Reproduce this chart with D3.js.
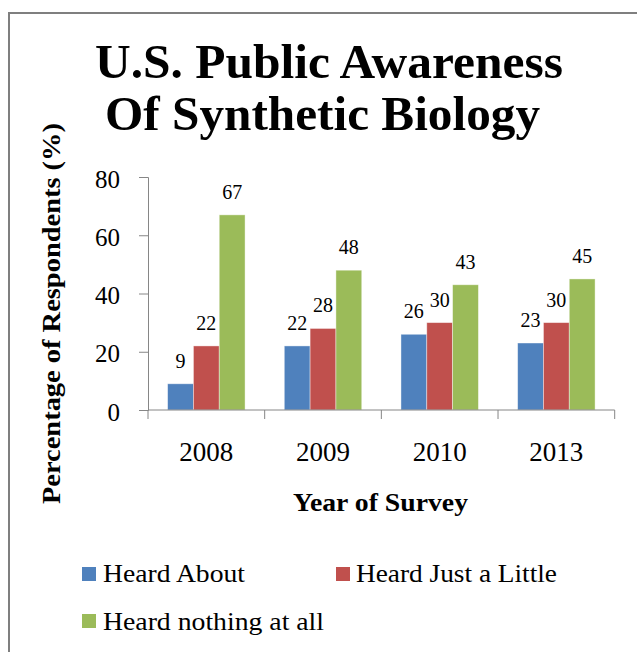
<!DOCTYPE html>
<html>
<head>
<meta charset="utf-8">
<script src="https://cdn.jsdelivr.net/npm/d3@7"></script>
<style>
  html, body { margin: 0; padding: 0; background: #fff; }
  svg { display: block; }
  text { font-family: "Liberation Serif", "Times New Roman", serif; fill: #000; }
</style>
</head>
<body>
<svg id="chart" width="637" height="652"></svg>
<script>
const years = ["2008", "2009", "2010", "2013"];
const seriesNames = ["Heard About", "Heard Just a Little", "Heard nothing at all"];
const heardAbout = [9, 22, 26, 23];
const heardLittle = [22, 28, 30, 30];
const heardNothing = [67, 48, 43, 45];
const yTicks = [0, 20, 40, 60, 80];
const colors = ["#4F81BD", "#C0504D", "#9BBB59"];
const titleLines = ["U.S. Public Awareness", "Of Synthetic Biology"];

const seriesValues = [heardAbout, heardLittle, heardNothing];
const svg = d3.select("#chart");

// outer frame
svg.append("rect").attr("x", 9).attr("y", 13).attr("width", 700).attr("height", 700)
  .attr("fill", "none").attr("stroke", "#7f7f7f").attr("stroke-width", 2);

// title
const titleGeom = [{x: 95, y: 78, w: 468}, {x: 105, y: 130, w: 435}];
titleLines.forEach((t, i) => {
  svg.append("text").attr("x", titleGeom[i].x).attr("y", titleGeom[i].y)
    .attr("font-size", 49).attr("font-weight", "bold")
    .attr("textLength", titleGeom[i].w).attr("lengthAdjust", "spacingAndGlyphs")
    .text(t);
});

const x0 = d3.scaleBand().domain(years).range([148, 614.7]).paddingInner(0).paddingOuter(0);
const x1 = d3.scaleBand().domain(seriesNames).range([0, x0.bandwidth()]).paddingInner(0).paddingOuter(0.76);
const y = d3.scaleLinear().domain([0, 80]).range([410, 177]);

// y axis
const yAxis = svg.append("g").attr("transform", "translate(148,0)")
  .call(d3.axisLeft(y).tickValues(yTicks).tickSize(9).tickPadding(19).tickSizeOuter(9));
yAxis.select(".domain").attr("stroke", "#868686");
yAxis.selectAll(".tick line").attr("stroke", "#868686");
yAxis.selectAll(".tick text").attr("font-size", 25).attr("font-family", "Liberation Serif")
  .attr("fill", "#000").attr("dy", "0.40em");

// bars
const groups = svg.append("g").selectAll("g").data(years).join("g")
  .attr("transform", d => `translate(${x0(d)},0)`);
groups.selectAll("rect")
  .data((d, i) => seriesNames.map((s, j) => ({s, j, v: seriesValues[j][i]})))
  .join("rect")
  .attr("x", d => x1(d.s))
  .attr("y", d => y(d.v))
  .attr("width", x1.bandwidth())
  .attr("height", d => y(0) - y(d.v))
  .attr("fill", d => colors[d.j])
  .attr("stroke", "rgba(255,255,255,0.5)").attr("stroke-width", 0.8);
groups.selectAll("text.val")
  .data((d, i) => seriesNames.map((s, j) => ({s, j, v: seriesValues[j][i]})))
  .join("text").attr("class", "val")
  .attr("x", d => x1(d.s) + x1.bandwidth() / 2)
  .attr("y", d => y(d.v) - 16)
  .attr("text-anchor", "middle").attr("font-size", 20)
  .text(d => d.v);

// x axis line and boundary ticks
svg.append("line").attr("x1", x0.range()[0]).attr("x2", x0.range()[1])
  .attr("y1", y(0)).attr("y2", y(0)).attr("stroke", "#868686");
const bounds = years.map(d => x0(d)).concat([x0(years[years.length - 1]) + x0.bandwidth()]);
svg.selectAll("line.xt").data(bounds).join("line").attr("class", "xt")
  .attr("x1", d => d).attr("x2", d => d).attr("y1", y(0)).attr("y2", y(0) + 9)
  .attr("stroke", "#868686");
svg.selectAll("text.yr").data(years).join("text").attr("class", "yr")
  .attr("x", d => x0(d) + x0.bandwidth() / 2).attr("y", 461)
  .attr("text-anchor", "middle").attr("font-size", 27).text(d => d);

// axis titles
svg.append("text").attr("x", 293).attr("y", 511)
  .attr("font-size", 25).attr("font-weight", "bold")
  .attr("textLength", 175).attr("lengthAdjust", "spacingAndGlyphs")
  .text("Year of Survey");
svg.append("text").attr("transform", "translate(60,504) rotate(-90)")
  .attr("font-size", 26).attr("font-weight", "bold")
  .attr("textLength", 381).attr("lengthAdjust", "spacingAndGlyphs")
  .text("Percentage of Respondents (%)");

// legend
const legendGeom = [
  {sx: 82, sy: 567, tx: 103, ty: 582, w: 142},
  {sx: 336, sy: 567, tx: 356, ty: 582, w: 201},
  {sx: 82, sy: 614, tx: 103, ty: 630, w: 221}
];
seriesNames.forEach((s, j) => {
  const g = legendGeom[j];
  svg.append("rect").attr("x", g.sx).attr("y", g.sy).attr("width", 14).attr("height", 14)
    .attr("fill", colors[j]);
  svg.append("text").attr("x", g.tx).attr("y", g.ty).attr("font-size", 26)
    .attr("textLength", g.w).attr("lengthAdjust", "spacingAndGlyphs").text(s);
});
</script>
</body>
</html>
